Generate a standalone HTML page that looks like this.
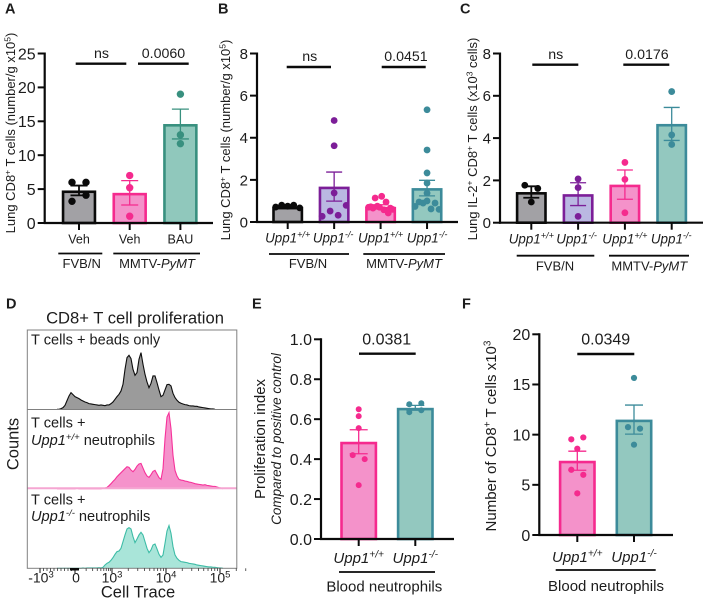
<!DOCTYPE html>
<html lang="en">
<head>
<meta charset="utf-8">
<title>CD8+ T cell figure</title>
<style>
html,body{margin:0;padding:0;background:#fff;}
svg{display:block;font-family:"Liberation Sans",Arial,sans-serif;fill:#1c1c1c;}
text{fill:#1c1c1c;}
.i{font-style:italic;}
</style>
</head>
<body>
<svg id="fig" width="705" height="601" viewBox="0 0 705 601" xmlns="http://www.w3.org/2000/svg">
  <rect x="0" y="0" width="705" height="601" fill="#fff"/>
  <!-- panel letters -->
  <g font-weight="bold" font-size="14.5">
    <text x="5" y="13.5">A</text>
    <text x="218" y="13.5">B</text>
    <text x="460" y="13.5">C</text>
    <text x="6" y="308.5">D</text>
    <text x="252" y="308.5">E</text>
    <text x="462" y="308.5">F</text>
  </g>
  <!-- axis titles -->
  <text font-size="13" text-anchor="middle" transform="translate(15,133) rotate(-90)">Lung CD8<tspan font-size="8.5" dy="-4.5">+</tspan><tspan dy="4.5"> T cells (number/g x10</tspan><tspan font-size="8.5" dy="-4.5">5</tspan><tspan dy="4.5">)</tspan></text>
  <text font-size="13" text-anchor="middle" transform="translate(230,140) rotate(-90)">Lung CD8<tspan font-size="8.5" dy="-4.5">+</tspan><tspan dy="4.5"> T cells (number/g x10</tspan><tspan font-size="8.5" dy="-4.5">5</tspan><tspan dy="4.5">)</tspan></text>
  <text font-size="13" text-anchor="middle" transform="translate(477,139) rotate(-90)">Lung IL-2<tspan font-size="8.5" dy="-4.5">+</tspan><tspan dy="4.5"> CD8</tspan><tspan font-size="8.5" dy="-4.5">+</tspan><tspan dy="4.5"> T cells (x10</tspan><tspan font-size="8.5" dy="-4.5">3</tspan><tspan dy="4.5"> cells)</tspan></text>
  <text font-size="15" text-anchor="middle" transform="translate(265,439) rotate(-90)">Proliferation index</text>
  <text class="i" font-size="13.5" text-anchor="middle" transform="translate(281,439) rotate(-90)">Compared to positive control</text>
  <text font-size="15" text-anchor="middle" transform="translate(496,436) rotate(-90)">Number of CD8<tspan font-size="10" dy="-5.5">+</tspan><tspan dy="5.5"> T cells x10</tspan><tspan font-size="10" dy="-5.5">3</tspan></text>
  <!-- group labels -->
  <g font-size="13" text-anchor="middle">
    <text x="81.7" y="268">FVB/N</text>
    <text x="157" y="268">MMTV-<tspan class="i">PyMT</tspan></text>
    <text x="308" y="268">FVB/N</text>
    <text x="404" y="268">MMTV-<tspan class="i">PyMT</tspan></text>
    <text x="555" y="270.5">FVB/N</text>
    <text x="649.3" y="270.5">MMTV-<tspan class="i">PyMT</tspan></text>
  </g>
  <text font-size="15" text-anchor="middle" x="384.3" y="591.5">Blood neutrophils</text>
  <text font-size="15" text-anchor="middle" x="606" y="591">Blood neutrophils</text>
  <!-- histogram text -->
  <text font-size="16.6" text-anchor="middle" x="135" y="323.3">CD8+ T cell proliferation</text>
  <text font-size="14.6" x="31" y="344.3">T cells + beads only</text>
  <text font-size="14.6" x="31" y="427.7">T cells +</text>
  <text font-size="14.6" x="31" y="445"><tspan class="i">Upp1</tspan><tspan class="i" font-size="9.5" dy="-5">+/+</tspan><tspan dy="5"> neutrophils</tspan></text>
  <text font-size="14.6" x="31" y="504.3">T cells +</text>
  <text font-size="14.6" x="31" y="521"><tspan class="i">Upp1</tspan><tspan class="i" font-size="9.5" dy="-5">-/-</tspan><tspan dy="5"> neutrophils</tspan></text>
  <text font-size="16.5" text-anchor="middle" transform="translate(18.5,444) rotate(-90)">Counts</text>
  <text font-size="16.5" text-anchor="middle" x="138" y="597.5">Cell Trace</text>
</svg>
<script>
// ---------- Panel A data ----------
const panelACategories = ['Veh', 'Veh', 'BAU'];
const panelATicks = [0, 5, 10, 15, 20, 25];
const panelAMeans = [4.8, 4.45, 14.6];
const panelASems = [0.72, 1.8, 2.2];
const panelAFvbPoints = [6, 6, 3.2, 4.1];
const panelAVehPoints = [7, 5.2, 1];
const panelABauPoints = [19, 13, 11.7];

// ---------- Panel B data ----------
const panelBCategories = ['Upp1+/+', 'Upp1-/-', 'Upp1+/+', 'Upp1-/-'];
const panelBTicks = [0, 2, 4, 6, 8];
const panelBMeans = [0.72, 1.68, 0.72, 1.61];
const panelBSems = [0.04, 0.69, 0.1, 0.37];
const panelBFvbWtPoints = [0.71, 0.8, 0.75, 0.8, 0.67];
const panelBFvbKoPoints = [0.27, 0.52, 0.32, 0.79, 1.38, 3.62, 4.82];
const panelBPymtWtPoints = [0.7, 0.72, 0.66, 1.14, 0.75, 0.7, 1.22, 0.58, 0.95, 0.43, 0.66, 0.6];
const panelBPymtKoPoints = [0.74, 0.95, 0.9, 1.0, 0.62, 0.9, 0.6, 1.37, 1.85, 2.33, 3.42, 5.33];

// ---------- Panel C data ----------
const panelCCategories = ['Upp1+/+', 'Upp1-/-', 'Upp1+/+', 'Upp1-/-'];
const panelCTicks = [0, 2, 4, 6, 8];
const panelCMeans = [1.45, 1.35, 1.8, 4.67];
const panelCSems = [0.27, 0.54, 0.69, 0.78];
const panelCFvbWtPoints = [1.77, 1.62, 0.98];
const panelCFvbKoPoints = [2.07, 1.66, 0.3];
const panelCPymtWtPoints = [2.85, 2.05, 0.47];
const panelCPymtKoPoints = [6.2, 4.15, 3.7];

// ---------- Panel D histogram data (event counts per bin) ----------
const histogramBeads = [0,0,2,5,12,26,40,50,44,38,35,32,28,25,22,20,17,16,15,14,13,12,13,12,11,13,13,17,22,30,38,45,55,75,120,155,162,152,120,102,110,150,170,135,105,82,65,78,100,100,80,58,38,42,58,74,75,70,48,35,27,21,18,16,14,13,11,10,10,9,9,7,6,5,4,3,2,1,1,0];
const histogramWt = [0,0,0,0,0,0,0,0,0,0,1,0,0,0,0,0,0,0,0,0,0,0,0,1,2,4,9,15,22,28,36,42,48,54,60,66,64,56,51,58,68,74,76,62,48,38,34,42,52,55,44,33,28,60,150,215,228,180,100,55,38,28,26,25,23,22,20,19,17,15,14,13,12,11,12,10,9,8,7,7,5,3,2,0];
const histogramKo = [0,0,0,0,0,0,0,0,0,0,0,0,0,1,0,1,1,1,1,1,1,2,1,3,10,15,18,24,32,42,50,52,60,80,100,118,122,118,95,77,88,100,108,100,80,60,47,55,70,73,58,42,33,40,75,112,128,105,65,40,30,24,20,19,18,17,15,14,13,12,10,9,8,7,6,5,4,4,3,3,2,1,1,0];
const histogramTickValues = [-1000, 0, 1000, 10000, 100000];

// ---------- Panel E data ----------
const panelECategories = ['Upp1+/+', 'Upp1-/-'];
const panelETicks = [0, 0.2, 0.4, 0.6, 0.8, 1];
const panelEMeans = [0.487, 0.657];
const panelESems = [0.06, 0.012];
const panelEWtPoints = [0.65, 0.615, 0.555, 0.42, 0.4, 0.27];
const panelEKoPoints = [0.675, 0.68, 0.635, 0.645];

// ---------- Panel F data ----------
const panelFCategories = ['Upp1+/+', 'Upp1-/-'];
const panelFTicks = [0, 5, 10, 15, 20];
const panelFMeans = [7.4, 11.5];
const panelFSems = [0.95, 1.45];
const panelFWtPoints = [9.53, 9.72, 8.6, 6.5, 6.0, 4.15];
const panelFKoPoints = [15.65, 10.75, 10.6, 9.0];

const svgRoot = document.getElementById('fig');
const NS = 'http://www.w3.org/2000/svg';
const PAL = {
  black: {fill: '#a2a1a5', stroke: '#0a0a0a', dot: '#0a0a0a'},
  pink: {fill: '#f492ca', stroke: '#f52a8e', dot: '#f52a8e'},
  purple: {fill: '#bab8e2', stroke: '#7c1e98', dot: '#7c1e98'},
  tealA: {fill: '#90c8bc', stroke: '#38907f', dot: '#38907f'},
  teal: {fill: '#93c8bf', stroke: '#3c8b9a', dot: '#3c8b9a'}
};

function add(parent, tag, attrs, name) {
  const el = document.createElementNS(NS, tag);
  for (const k in attrs) el.setAttribute(k, attrs[k]);
  
  
  parent.appendChild(el);
  return el;
}

function line(parent, x1, y1, x2, y2, color, w, name) {
  return add(parent, 'line', {x1, y1, x2, y2, stroke: color, 'stroke-width': w}, name);
}

function swarm(values, yScale, thr, gap, maxSpread) {
  const order = values.map((v, i) => i).sort((a, b) => values[a] - values[b] || a - b);
  const offs = new Array(values.length).fill(0);
  let group = [];
  const flush = () => {
    const sorted = group.slice().sort((a, b) => a - b);
    const n = sorted.length;
    const g = n > 1 ? Math.min(gap, maxSpread / (n - 1)) : 0;
    sorted.forEach((idx, k) => { offs[idx] = (k - (n - 1) / 2) * g; });
    group = [];
  };
  order.forEach((idx, j) => {
    if (j > 0 && Math.abs(yScale(values[order[j - 1]]) - yScale(values[idx])) >= thr) flush();
    group.push(idx);
  });
  flush();
  return offs;
}

function categoryLabel(parent, x, y, label, size, name) {
  const t = add(parent, 'text', {x, y, 'font-size': size, 'text-anchor': 'middle'}, name);
  if (label.indexOf('Upp1') === 0) {
    const a = document.createElementNS(NS, 'tspan');
    a.setAttribute('font-style', 'italic');
    a.textContent = 'Upp1';
    const b = document.createElementNS(NS, 'tspan');
    b.setAttribute('font-style', 'italic');
    b.setAttribute('font-size', size * 0.68);
    b.setAttribute('dy', -size * 0.36);
    b.textContent = label.slice(4);
    t.appendChild(a);
    t.appendChild(b);
  } else {
    t.textContent = label;
  }
}

function barPanel(c) {
  const g = add(svgRoot, 'g', {}, 'bar-chart-' + c.id);
  const Y = v => c.y0 - (v - c.ticks[0]) / (c.ticks[c.ticks.length - 1] - c.ticks[0]) * (c.y0 - c.yTop);
  const X = i => c.x0 + i * c.step;
  c.means.forEach((m, i) => {
    const col = c.colors[i];
    const sw = c.barStroke;
    add(g, 'rect', {
      x: X(i) - c.barW / 2 + sw / 2, y: Y(m) + sw / 2,
      width: c.barW - sw, height: Math.max(0, c.y0 - Y(m) - sw / 2),
      fill: col.fill, stroke: col.stroke, 'stroke-width': sw
    }, 'bar-' + c.id + '-' + i);
  });
  c.means.forEach((m, i) => {
    const col = c.colors[i];
    const hi = Y(m + c.sems[i]), lo = Y(m - c.sems[i]);
    const cw = c.capW / 2, ew = col === PAL.black ? 1.8 : 1.3;
    line(g, X(i), hi, X(i), lo, col.stroke, ew, 'error-stem-' + c.id + '-' + i);
    line(g, X(i) - cw, hi, X(i) + cw, hi, col.stroke, ew, 'error-cap-high-' + c.id + '-' + i);
    line(g, X(i) - cw, lo, X(i) + cw, lo, col.stroke, ew, 'error-cap-low-' + c.id + '-' + i);
  });
  c.points.forEach((vals, i) => {
    const offs = swarm(vals, Y, c.r * 1.8, c.gap, 24);
    vals.forEach((v, k) => {
      add(g, 'circle', {cx: X(i) + offs[k], cy: Y(v), r: c.r, fill: c.colors[i].dot}, 'point-' + c.id + '-' + i + '-' + k);
    });
  });
  // axes
  line(g, c.axisX, c.yTop - 1, c.axisX, c.y0 + 1, '#0a0a0a', 2.2, 'y-axis-' + c.id);
  line(g, c.axisX - 1, c.y0, c.xEnd, c.y0, '#0a0a0a', 2.2, 'x-axis-' + c.id);
  c.ticks.forEach((t, i) => {
    line(g, c.axisX - 7, Y(t), c.axisX, Y(t), '#0a0a0a', 2, 'y-tick-' + c.id + '-' + i);
    const lab = add(g, 'text', {x: c.axisX - 9, y: Y(t) + c.tickSize * 0.36, 'font-size': c.tickSize, 'text-anchor': 'end'}, 'y-tick-label-' + c.id + '-' + i);
    lab.textContent = c.tickFmt ? c.tickFmt(t) : String(t);
  });
  c.cats.forEach((label, i) => {
    line(g, X(i), c.y0, X(i), c.y0 + 7, '#0a0a0a', 2, 'x-tick-' + c.id + '-' + i);
    categoryLabel(g, X(i) + (c.catShift ? c.catShift[i] : 0), c.catY, label, c.catSize, 'x-tick-label-' + c.id + '-' + i);
  });
  c.sig.forEach((s, i) => {
    line(g, s.x1, s.y, s.x2, s.y, '#0a0a0a', 2.4, 'significance-bar-' + c.id + '-' + i);
    const t = add(g, 'text', {x: s.tx, y: s.ty, 'font-size': c.sigSize, 'text-anchor': 'middle'}, 'significance-label-' + c.id + '-' + i);
    t.textContent = s.label;
  });
  c.groups.forEach((s, i) => {
    line(g, s.x1, s.y, s.x2, s.y, '#0a0a0a', 1.8, 'group-line-' + c.id + '-' + i);
  });
}

barPanel({
  id: 'a', ticks: panelATicks, cats: panelACategories, means: panelAMeans, sems: panelASems,
  points: [panelAFvbPoints, panelAVehPoints, panelABauPoints],
  colors: [PAL.black, PAL.pink, PAL.tealA],
  y0: 223, yTop: 53.5, axisX: 44.7, xEnd: 213, x0: 79, step: 50.7, barW: 34.5, barStroke: 2.6, capW: 17, r: 3.7, gap: 14,
  tickSize: 16, catY: 243.3, catSize: 12.5, sigSize: 14.2,
  sig: [{x1: 75.7, x2: 126.3, y: 63.7, tx: 101.5, ty: 58, label: 'ns'}, {x1: 138, x2: 188.7, y: 63.7, tx: 163.5, ty: 58, label: '0.0060'}],
  groups: [{x1: 58.3, x2: 102.3, y: 253.5}, {x1: 113.3, x2: 200, y: 253.5}]
});

barPanel({
  id: 'b', ticks: panelBTicks, cats: panelBCategories, means: panelBMeans, sems: panelBSems,
  points: [panelBFvbWtPoints, panelBFvbKoPoints, panelBPymtWtPoints, panelBPymtKoPoints],
  colors: [PAL.black, PAL.purple, PAL.pink, PAL.teal],
  y0: 222, yTop: 53.5, axisX: 257, xEnd: 458, x0: 287.7, step: 46.45, barW: 31, barStroke: 2.6, capW: 16, r: 3.4, gap: 14,
  tickSize: 15, catY: 242.5, catSize: 13.4, sigSize: 14.2, catShift: [0, -1, 0, 0],
  sig: [{x1: 286.7, x2: 331, y: 67, tx: 309.7, ty: 61, label: 'ns'}, {x1: 381.7, x2: 425.7, y: 67, tx: 406, ty: 61, label: '0.0451'}],
  groups: [{x1: 269, x2: 349, y: 254}, {x1: 363.3, x2: 445, y: 254}]
});

barPanel({
  id: 'c', ticks: panelCTicks, cats: panelCCategories, means: panelCMeans, sems: panelCSems,
  points: [panelCFvbWtPoints, panelCFvbKoPoints, panelCPymtWtPoints, panelCPymtKoPoints],
  colors: [PAL.black, PAL.purple, PAL.pink, PAL.teal],
  y0: 222.7, yTop: 53.5, axisX: 500, xEnd: 703, x0: 531.3, step: 46.8, barW: 31, barStroke: 2.6, capW: 16, r: 3.4, gap: 13,
  tickSize: 15, catY: 243.3, catSize: 13.4, sigSize: 14.2, catShift: [0, -1.5, 0, -0.5],
  sig: [{x1: 532.3, x2: 578.3, y: 64.7, tx: 555.7, ty: 59, label: 'ns'}, {x1: 623.3, x2: 669.3, y: 64.7, tx: 647, ty: 59, label: '0.0176'}],
  groups: [{x1: 516.7, x2: 594.3, y: 255.7}, {x1: 609, x2: 689, y: 255.7}]
});

barPanel({
  id: 'e', ticks: panelETicks, cats: panelECategories, means: panelEMeans, sems: panelESems,
  points: [panelEWtPoints, panelEKoPoints],
  colors: [PAL.pink, PAL.teal],
  tickFmt: t => t.toFixed(1),
  y0: 539, yTop: 339.3, axisX: 321, xEnd: 454, x0: 358.7, step: 56.6, barW: 37, barStroke: 2.6, capW: 18, r: 3, gap: 12,
  tickSize: 16, catY: 563, catSize: 15, sigSize: 16,
  sig: [{x1: 359, x2: 415.7, y: 353.7, tx: 386.7, ty: 344.5, label: '0.0381'}],
  groups: [{x1: 339, x2: 435, y: 572}]
});

barPanel({
  id: 'f', ticks: panelFTicks, cats: panelFCategories, means: panelFMeans, sems: panelFSems,
  points: [panelFWtPoints, panelFKoPoints],
  colors: [PAL.pink, PAL.teal],
  y0: 535, yTop: 334.3, axisX: 539.3, xEnd: 673, x0: 577.3, step: 56.7, barW: 37, barStroke: 2.6, capW: 18, r: 3.1, gap: 12,
  tickSize: 16, catY: 562, catSize: 15, sigSize: 16,
  sig: [{x1: 577.3, x2: 634.3, y: 354, tx: 605.7, ty: 344.5, label: '0.0349'}],
  groups: [{x1: 555.7, x2: 655.7, y: 570}]
});

// ---------- Histograms ----------
const histGroup = add(svgRoot, 'g', {}, 'histogram-panel');
const binX = i => 57 + 2 * i;
const countY = (base, n) => base - n / 3;
function drawHistogram(counts, base, fill, stroke, name) {
  let d = 'M' + binX(0) + ' ' + base;
  counts.forEach((n, i) => { d += ' L' + binX(i) + ' ' + countY(base, n).toFixed(2); });
  d += ' L' + binX(counts.length - 1) + ' ' + base + ' Z';
  add(histGroup, 'path', {d, fill, stroke: 'none'}, name + '-area');
  let o = '';
  counts.forEach((n, i) => { o += (i ? ' L' : 'M') + binX(i) + ' ' + countY(base, n).toFixed(2); });
  add(histGroup, 'path', {d: o, fill: 'none', stroke, 'stroke-width': 1.1}, name + '-outline');
}
drawHistogram(histogramBeads, 409.3, '#9b9b9b', '#0d0d0d', 'histogram-beads');
drawHistogram(histogramWt, 488.7, '#f592cb', '#f6329a', 'histogram-wt');
drawHistogram(histogramKo, 568.3, '#a9e5d9', '#3dbca6', 'histogram-ko');
line(histGroup, 27.5, 488.2, 236.5, 488.2, '#f5a6d2', 2, 'histogram-wt-baseline');
add(histGroup, 'rect', {x: 27.3, y: 330, width: 209.5, height: 238.3, fill: 'none', stroke: '#808080', 'stroke-width': 1}, 'histogram-frame');
line(histGroup, 27.3, 409.5, 236.8, 409.5, '#808080', 1, 'histogram-divider-1');

const xD = v => {
  if (v >= 1000) return 112 + 54 * Math.log10(v / 1000);
  if (v === 0) return 75;
  return 75 + 35 * v / 1000;
};
histogramTickValues.forEach((v, i) => {
  const x = xD(v);
  line(histGroup, x, 568.3, x, 573, '#222', 1.1, 'histogram-major-tick-' + i);
  const t = add(histGroup, 'text', {x: x + (v > 0 ? 0 : 1), y: 582.5, 'font-size': 14, 'text-anchor': 'middle'}, 'histogram-tick-label-' + i);
  if (v === 0) {
    t.textContent = '0';
  } else {
    const a = document.createElementNS(NS, 'tspan');
    a.textContent = v < 0 ? '-10' : '10';
    const b = document.createElementNS(NS, 'tspan');
    b.setAttribute('font-size', '9.5');
    b.setAttribute('dy', '-5');
    b.textContent = String(Math.round(Math.log10(Math.abs(v))));
    t.appendChild(a);
    t.appendChild(b);
  }
});
[1000, 10000].forEach((dec, j) => {
  for (let m = 2; m <= 9; m++) {
    const x = xD(dec * m);
    line(histGroup, x, 568.3, x, 571, '#333', 0.8, 'histogram-minor-tick-' + j + '-' + m);
  }
});
for (let m = 2; m <= 3; m++) {
  const x = xD(100000 * m);
  line(histGroup, x, 568.3, x, 571, '#333', 0.8, 'histogram-minor-tick-high-' + m);
}
for (let m = 1; m <= 9; m++) {
  const x1 = xD(-m * 100);
  line(histGroup, x1, 568.3, x1, 571, '#333', 0.8, 'histogram-minor-tick-neg-' + m);
  line(histGroup, 75 + 37 * Math.log10(m + 1), 568.3, 75 + 37 * Math.log10(m + 1), 571, '#333', 0.8, 'histogram-minor-tick-pos-' + m);
}
add(histGroup, 'rect', {x: 70, y: 568, width: 9, height: 2.5, fill: '#0a0a0a'}, 'histogram-zero-mark');
</script>
</body>
</html>
